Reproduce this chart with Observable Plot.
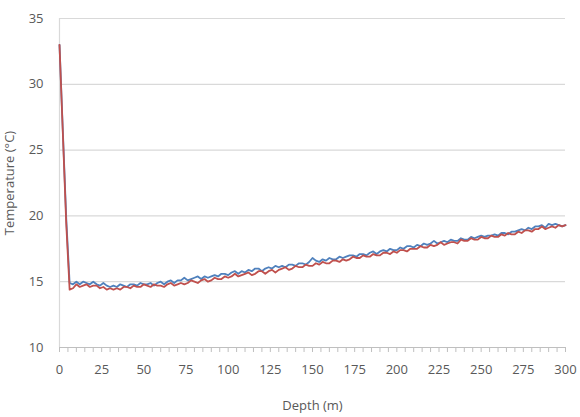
<!DOCTYPE html>
<html>
<head>
<meta charset="utf-8">
<script src="https://cdn.jsdelivr.net/npm/d3@7"></script>
<script src="https://cdn.jsdelivr.net/npm/@observablehq/plot@0.6"></script>
<style>
  html, body { margin: 0; padding: 0; background: #fff; }
  #chart { width: 580px; height: 417px; }
</style>
</head>
<body>
<div id="chart"></div>
<script>
const depth = [
  0, 2, 4, 6, 8, 10,
  12, 14, 16, 18, 20, 22, 24, 26, 28, 30,
  32, 34, 36, 38, 40, 42, 44, 46, 48, 50,
  52, 54, 56, 58, 60, 62, 64, 66, 68, 70,
  72, 74, 76, 78, 80, 82, 84, 86, 88, 90,
  92, 94, 96, 98, 100, 102, 104, 106, 108, 110,
  112, 114, 116, 118, 120, 122, 124, 126, 128, 130,
  132, 134, 136, 138, 140, 142, 144, 146, 148, 150,
  152, 154, 156, 158, 160, 162, 164, 166, 168, 170,
  172, 174, 176, 178, 180, 182, 184, 186, 188, 190,
  192, 194, 196, 198, 200, 202, 204, 206, 208, 210,
  212, 214, 216, 218, 220, 222, 224, 226, 228, 230,
  232, 234, 236, 238, 240, 242, 244, 246, 248, 250,
  252, 254, 256, 258, 260, 262, 264, 266, 268, 270,
  272, 274, 276, 278, 280, 282, 284, 286, 288, 290,
  292, 294, 296, 298, 300
];
const blueTemp = [
  33.0, 26.4, 19.8, 14.9, 14.8, 15.0,
  14.8, 15.0, 14.9, 14.8, 15.0, 14.8, 14.7, 14.9, 14.7, 14.6,
  14.7, 14.6, 14.8, 14.7, 14.6, 14.8, 14.8, 14.7, 14.9, 14.8,
  14.8, 14.9, 14.7, 14.9, 15.0, 14.8, 15.0, 15.1, 14.9, 15.1,
  15.1, 15.3, 15.1, 15.2, 15.3, 15.4, 15.2, 15.4, 15.3, 15.4,
  15.5, 15.4, 15.6, 15.6, 15.5, 15.7, 15.8, 15.6, 15.8, 15.7,
  15.9, 15.8, 16.0, 16.0, 15.8, 16.0, 16.1, 16.0, 16.2, 16.1,
  16.2, 16.1, 16.3, 16.3, 16.2, 16.4, 16.4, 16.3, 16.5, 16.8,
  16.6, 16.5, 16.7, 16.6, 16.8, 16.7, 16.7, 16.9, 16.8, 16.9,
  17.0, 17.0, 16.9, 17.1, 17.1, 17.0, 17.2, 17.3, 17.1, 17.3,
  17.4, 17.3, 17.5, 17.4, 17.4, 17.6, 17.5, 17.7, 17.7, 17.6,
  17.8, 17.7, 17.9, 17.8, 17.9, 18.1, 17.9, 18.0, 18.1, 18.0,
  18.2, 18.1, 18.1, 18.3, 18.2, 18.2, 18.4, 18.3, 18.4, 18.5,
  18.4, 18.5, 18.5, 18.6, 18.5, 18.7, 18.7, 18.6, 18.8, 18.8,
  18.9, 19.0, 18.9, 19.1, 19.0, 19.2, 19.2, 19.3, 19.1, 19.4,
  19.3, 19.4, 19.3, 19.2, 19.3
];
const redTemp = [
  33.0, 26.2, 19.4, 14.4, 14.5, 14.8,
  14.6, 14.7, 14.8, 14.6, 14.7, 14.7, 14.5, 14.6, 14.4, 14.5,
  14.4, 14.5, 14.4, 14.6, 14.6, 14.5, 14.7, 14.6, 14.6, 14.8,
  14.7, 14.6, 14.8, 14.7, 14.7, 14.6, 14.8, 14.9, 14.7, 14.8,
  14.9, 14.8, 14.9, 15.1, 15.0, 14.9, 15.1, 15.2, 15.0, 15.1,
  15.3, 15.2, 15.2, 15.4, 15.3, 15.4, 15.6, 15.4, 15.5, 15.6,
  15.7, 15.5, 15.6, 15.8, 15.8, 15.6, 15.8, 15.9, 15.7, 15.9,
  16.0, 16.1, 15.9, 16.0, 16.2, 16.1, 16.1, 16.3, 16.2, 16.2,
  16.4, 16.3, 16.5, 16.4, 16.4, 16.6, 16.6, 16.5, 16.7, 16.6,
  16.7, 16.9, 16.8, 16.8, 17.0, 16.9, 16.9, 17.1, 17.0, 17.0,
  17.2, 17.2, 17.1, 17.3, 17.2, 17.4, 17.4, 17.3, 17.5, 17.5,
  17.5, 17.7, 17.6, 17.6, 17.8, 17.7, 17.8, 18.0, 17.8, 17.9,
  18.0, 18.0, 17.9, 18.2, 18.1, 18.1, 18.3, 18.2, 18.2, 18.4,
  18.3, 18.3, 18.5, 18.4, 18.4, 18.6, 18.5, 18.7, 18.6, 18.6,
  18.8, 18.7, 18.9, 18.9, 18.8, 19.0, 19.0, 19.2, 19.0, 19.1,
  19.2, 19.1, 19.3, 19.2, 19.3
];
const xTicks = [0, 25, 50, 75, 100, 125, 150, 175, 200, 225, 250, 275, 300];
const yTicks = [10, 15, 20, 25, 30, 35];
const gridValues = [15, 20, 25, 30, 35];

const blueData = depth.map((d, i) => ({depth: d, temp: blueTemp[i]}));
const redData = depth.map((d, i) => ({depth: d, temp: redTemp[i]}));

const textColor = "#595959";
const minorTicks = d3.range(0, 301, 5);

const chart = Plot.plot({
  width: 580,
  height: 417,
  marginLeft: 59,
  marginRight: 15,
  marginTop: 18,
  marginBottom: 70,
  style: {fontFamily: "'Open Sans', sans-serif", fontSize: "13px", color: textColor, background: "#fff"},
  x: {domain: [0, 300]},
  y: {domain: [10, 35]},
  marks: [
    Plot.ruleY(gridValues, {stroke: "#d9d9d9", strokeWidth: 1.2}),
    Plot.ruleX([0], {stroke: "#d9d9d9", strokeWidth: 1.2}),
    Plot.ruleY([10], {stroke: "#bfbfbf", strokeWidth: 1.2}),
    Plot.tickX(minorTicks, {x: d => d, stroke: "#bfbfbf", strokeWidth: 1, insetTop: 334, insetBottom: 0}),
    Plot.axisX({ticks: xTicks, tickSize: 0, tickPadding: 17, fill: textColor, fontSize: 13,
      label: "Depth (m)", labelAnchor: "center", labelArrow: "none", labelOffset: 62}),
    Plot.axisY({ticks: yTicks, tickSize: 0, tickPadding: 16, fill: textColor, fontSize: 13,
      label: "Temperature (°C)", labelAnchor: "center", labelArrow: "none", labelOffset: 55}),
    Plot.line(blueData, {x: "depth", y: "temp", stroke: "#4f81bd", strokeWidth: 1.8}),
    Plot.line(redData, {x: "depth", y: "temp", stroke: "#c0504d", strokeWidth: 1.8})
  ]
});
document.getElementById("chart").append(chart);
</script>
</body>
</html>
